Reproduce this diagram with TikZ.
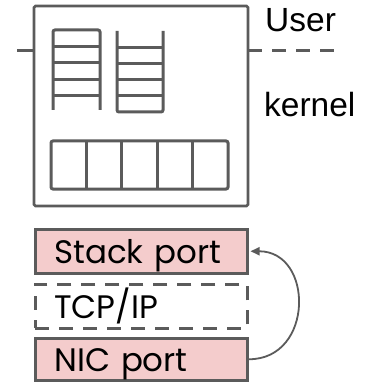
\documentclass[tikz,border=0pt]{standalone}
\usepackage{fontspec}
\setmainfont{Liberation Sans}
\newfontfamily\portfont{Poppins}
\usetikzlibrary{arrows.meta}
\definecolor{edgegray}{HTML}{5B5B5B}
\definecolor{portpink}{HTML}{F4CCCC}
\tikzset{
  frame/.style={draw=edgegray, line width=2.6pt, rounded corners=1.5pt},
  ladder/.style={draw=edgegray, line width=3pt, rounded corners=2pt},
  divider/.style={draw=edgegray, line width=3pt},
  portbase/.style={line width=3.5pt, minimum width=212pt, minimum height=44pt,
    text width=174pt, inner xsep=19pt, inner ysep=0pt, align=left,
    font=\portfont\fontsize{32.5}{33}\selectfont, text height=24pt, text depth=0pt,
    anchor=north west},
  portbox/.style={portbase, draw=edgegray, fill=portpink},
  dashbox/.style={portbase, draw=edgegray, dash pattern=on 14pt off 10pt},
  sidelabel/.style={font=\fontsize{33.5}{34}\selectfont, anchor=base west, inner sep=0pt},
  conn/.style={draw=edgegray, line width=1.8pt, -{Triangle[length=9pt,width=8pt]}},
  sepline/.style={draw=edgegray, line width=3pt}
}
\begin{document}
\begin{tikzpicture}[x=1pt,y=-1pt]
\useasboundingbox (0,0) rectangle (371,382);
% user/kernel separator
\draw[sepline] (17,51) -- (35,51);
\draw[sepline, dash pattern=on 14pt off 10pt] (248,51) -- (340,51);
% host box
\draw[frame, fill=white] (34,6) rectangle (248,206);
% left queue (open at bottom)
\draw[ladder] (53,110) -- (53,30) -- (100,30) -- (100,110);
\foreach \yy in {46.5,63,79.5,96} \draw[divider] (53,\yy) -- (100,\yy);
% right queue (open at top)
\draw[ladder] (117,31) -- (117,112) -- (163,112) -- (163,31);
\foreach \yy in {48,64,80,96} \draw[divider] (117,\yy) -- (163,\yy);
% ring buffer
\draw[ladder] (51,141) rectangle (228,189);
\foreach \xx in {86.4,121.8,157.2,192.6} \draw[divider] (\xx,141) -- (\xx,189);
% labels
\node[sidelabel] (user) at (265,32) {User};
\node[sidelabel] (kernel) at (264,117) {kernel};
% port stack
\node[portbox] (stack) at (33.5,227.5) {Stack port};
\node[dashbox] (tcp) at (33.5,282.5) {TCP/IP};
\node[portbox, minimum height=42pt] (nic) at (33.5,336.5) {NIC port};
\draw[conn, shorten >=1.5pt] (nic.east) .. controls +(65,0) and +(65,0) .. (stack.east);
\end{tikzpicture}
\end{document}
